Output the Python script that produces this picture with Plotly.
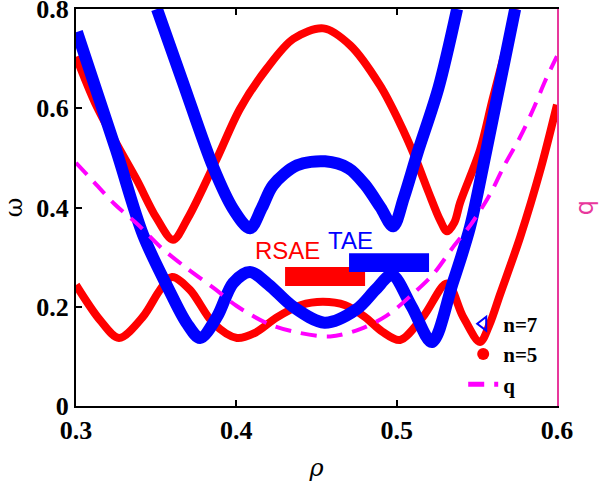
import plotly.graph_objects as go

# ---- n=5 (red) branches ----
rho_n5_upper = [0.300, 0.312, 0.325, 0.338, 0.350, 0.3605, 0.370, 0.3878, 0.4023, 0.419, 0.4356,
                0.4543, 0.471, 0.4896, 0.502, 0.511, 0.520, 0.527, 0.5314, 0.536, 0.5396, 0.552, 0.560, 0.5745]
w_n5_upper = [0.704, 0.610, 0.530, 0.455, 0.380, 0.335, 0.380, 0.498, 0.599, 0.680, 0.740,
              0.761, 0.727, 0.646, 0.570, 0.505, 0.430, 0.375, 0.352, 0.370, 0.410, 0.516, 0.620, 0.800]

rho_n5_lower = [0.300, 0.315, 0.3268, 0.3418, 0.3524, 0.3599, 0.3711, 0.3856, 0.4004, 0.412, 0.425,
                0.440, 0.454, 0.468, 0.480, 0.491, 0.5021, 0.5165, 0.5314, 0.5414, 0.552, 0.558, 0.5645,
                0.577, 0.590, 0.600]
w_n5_lower = [0.244, 0.173, 0.137, 0.180, 0.234, 0.260, 0.234, 0.167, 0.137, 0.148, 0.178,
              0.203, 0.210, 0.203, 0.180, 0.150, 0.133, 0.180, 0.247, 0.180, 0.129, 0.165, 0.225,
              0.340, 0.480, 0.607]

# ---- n=7 (blue) branches ----
rho_n7_lower = [0.3006, 0.325, 0.3418, 0.358, 0.369, 0.3774, 0.388, 0.398, 0.4085, 0.420, 0.4354,
                0.455, 0.475, 0.487, 0.497, 0.5094, 0.522, 0.535, 0.5458, 0.556, 0.5739]
w_n7_lower = [0.754, 0.516, 0.345, 0.234, 0.167, 0.137, 0.180, 0.248, 0.270, 0.245, 0.200,
              0.168, 0.195, 0.235, 0.264, 0.200, 0.129, 0.248, 0.361, 0.516, 0.800]

rho_n7_upper = [0.3505, 0.3668, 0.3855, 0.398, 0.4085, 0.416, 0.4229, 0.4379, 0.4553, 0.470, 0.480,
                0.490, 0.4978, 0.5045, 0.513, 0.526, 0.5377]
w_n7_upper = [0.800, 0.651, 0.482, 0.397, 0.358, 0.400, 0.445, 0.485, 0.493, 0.479, 0.447,
              0.400, 0.362, 0.420, 0.510, 0.640, 0.800]

# ---- safety factor q (right axis) ----
rho_q = [0.300, 0.311, 0.324, 0.3395, 0.3535, 0.369, 0.387, 0.400, 0.419, 0.4356, 0.4585, 0.4772,
         0.4938, 0.5094, 0.5229, 0.5347, 0.5468, 0.5583, 0.567, 0.577, 0.5853, 0.5926, 0.600]
q_vals = [0.490, 0.452, 0.407, 0.363, 0.318, 0.278, 0.235, 0.202, 0.167, 0.150, 0.140, 0.155,
          0.182, 0.224, 0.266, 0.318, 0.368, 0.427, 0.484, 0.542, 0.599, 0.655, 0.705]

# ---- gap bars ----
gap_names = ["RSAE", "TAE"]
gap_colors = ["#ff0000", "#0000ff"]
gap_x0 = [0.4304, 0.4703]
gap_x1 = [0.4803, 0.5202]
gap_y0 = [0.242, 0.270]
gap_y1 = [0.280, 0.308]
gap_label_x = [0.432, 0.471]
gap_label_y = [0.3125, 0.333]

x_ticks = [0.3, 0.4, 0.5, 0.6]
y_ticks = [0, 0.2, 0.4, 0.6, 0.8]

RED = "#ff0000"
BLUE = "#0000ff"
MAG = "#ff00ff"
PINK = "#e8389c"
SERIF = "Liberation Serif, Times New Roman, serif"

fig = go.Figure()
for xs, ys in [(rho_n5_upper, w_n5_upper), (rho_n5_lower, w_n5_lower)]:
    fig.add_trace(go.Scatter(x=xs, y=ys, mode="lines", showlegend=False,
                             line=dict(color=RED, width=8, shape="spline", smoothing=0.9)))
for xs, ys in [(rho_n7_upper, w_n7_upper), (rho_n7_lower, w_n7_lower)]:
    fig.add_trace(go.Scatter(x=xs, y=ys, mode="lines", showlegend=False,
                             line=dict(color=BLUE, width=12, shape="spline", smoothing=0.9)))

fig.add_trace(go.Scatter(x=[None], y=[None], mode="markers", name="n=7",
                         marker=dict(symbol="triangle-left-open", color=BLUE, size=8,
                                     line=dict(width=2, color=BLUE))))
fig.add_trace(go.Scatter(x=[None], y=[None], mode="markers", name="n=5",
                         marker=dict(symbol="circle", color=RED, size=6)))
fig.add_trace(go.Scatter(x=rho_q, y=q_vals, mode="lines", name="q", yaxis="y2",
                         line=dict(color=MAG, width=4, dash="16px,10px", shape="spline", smoothing=0.9)))

for i, name in enumerate(gap_names):
    fig.add_shape(type="rect", x0=gap_x0[i], x1=gap_x1[i], y0=gap_y0[i], y1=gap_y1[i],
                  xref="x", yref="y", fillcolor=gap_colors[i], line=dict(width=0), layer="above")
    fig.add_annotation(x=gap_label_x[i], y=gap_label_y[i], xref="x", yref="y", text=name,
                       showarrow=False, font=dict(family="Liberation Sans", size=24, color=gap_colors[i]))

tickfont = dict(family=SERIF, size=26, color="black", weight="bold")

fig.update_layout(
    width=599, height=487,
    margin=dict(l=76, r=42, t=9, b=81, autoexpand=False),
    paper_bgcolor="white", plot_bgcolor="white",
    showlegend=True,
    legend=dict(x=0.805, y=0.258, xanchor="left", yanchor="top", bgcolor="rgba(0,0,0,0)",
                font=dict(family=SERIF, size=21, color="black", weight="bold"),
                tracegroupgap=0, itemsizing="constant"),
    xaxis=dict(range=[0.3, 0.6], tickvals=x_ticks, ticktext=[f"{v:.1f}" for v in x_ticks],
               showline=True, linecolor="black", linewidth=2, mirror="ticks",
               ticks="inside", ticklen=6, tickwidth=2, tickcolor="black", automargin=False,
               showgrid=False, zeroline=False, tickfont=tickfont, ticklabeloverflow="allow",
               title=dict(text="ρ", font=dict(family="DejaVu Serif", size=24, color="black", style="italic"),
                          standoff=15)),
    yaxis=dict(range=[0, 0.8], tickvals=y_ticks, ticktext=["0", "0.2", "0.4", "0.6", "0.8"],
               showline=True, linecolor="black", linewidth=2, mirror=False, automargin=False,
               ticks="inside", ticklen=6, tickwidth=2, tickcolor="black", ticklabeloverflow="allow",
               showgrid=False, zeroline=False, tickfont=tickfont,
               title=dict(text="ω", font=dict(family="DejaVu Serif", size=24, color="black"), standoff=8)),
    yaxis2=dict(range=[0, 0.8], overlaying="y", side="right", showline=True, linecolor=PINK, linewidth=2,
                showticklabels=False, ticks="", showgrid=False, zeroline=False, automargin=False,
                title=dict(text="q", font=dict(family="DejaVu Sans", size=24, color=PINK), standoff=18)),
)

fig.write_html("out.html", config={"displayModeBar": False},
               post_script="document.body.style.margin='0px';document.body.style.padding='0px';")
